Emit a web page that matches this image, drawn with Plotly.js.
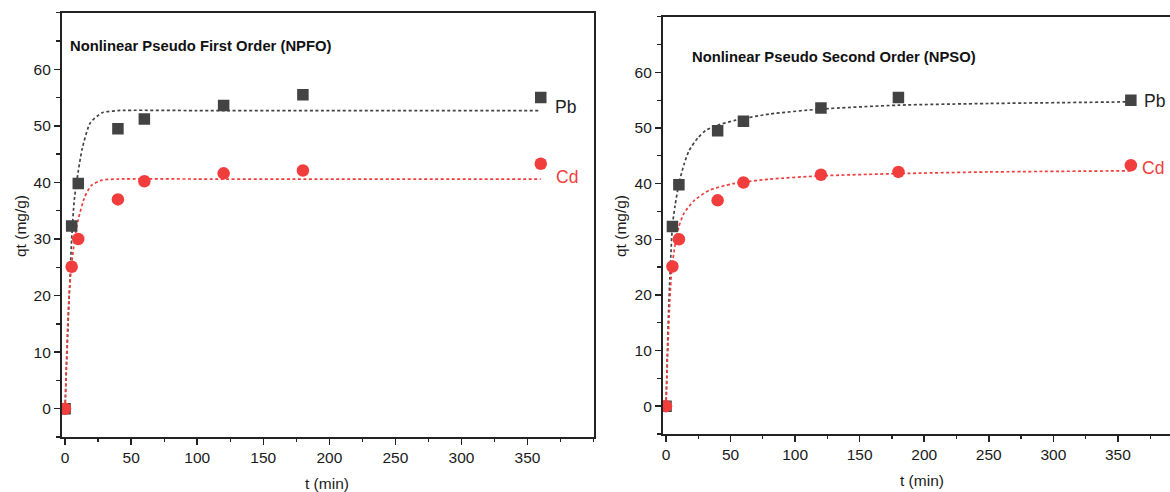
<!DOCTYPE html>
<html>
<head>
<meta charset="utf-8">
<script src="https://cdn.plot.ly/plotly-3.0.1.min.js"></script>
<style>
html,body{margin:0;padding:0;overflow:hidden;background:#fff;width:1170px;height:492px;}
#chart{width:1185px;height:492px;}
</style>
</head>
<body>
<div id="chart"></div>
<script>
const tPb = [0, 5, 10, 40, 60, 120, 180, 360];
const qPb = [0, 32.3, 39.8, 49.5, 51.2, 53.6, 55.5, 55.0];
const tCd = [0, 5, 10, 40, 60, 120, 180, 360];
const qCd = [0, 25.1, 30.0, 37.0, 40.2, 41.6, 42.1, 43.3];

// Fitted curves – NPFO panel
const tFoPb = [0, 1, 2, 3, 5, 7, 10, 13, 19, 28, 40, 100, 200, 360];
const qFoPb = [0, 7, 13, 19, 30, 37, 42, 46, 50.5, 52.3, 52.7, 52.7, 52.7, 52.7];
const tFoCd = [0, 1, 2, 3, 5, 7, 10, 15, 20, 28, 40, 100, 200, 360];
const qFoCd = [0, 8, 15, 20, 25.5, 29.5, 33.5, 37.5, 39.5, 40.4, 40.6, 40.6, 40.6, 40.6];

// Fitted curves – NPSO panel
const tSoPb = [0, 1, 2, 3, 5, 7, 10, 14, 18, 25, 31, 40, 54, 80, 120, 180, 250, 360];
const qSoPb = [0, 9, 17, 23, 32.5, 36, 40, 43.5, 46, 48.3, 49.6, 50.5, 51.4, 52.5, 53.4, 54.1, 54.4, 54.7];
const tSoCd = [0, 1.5, 3, 4.6, 7.7, 10, 14, 22, 33.5, 52, 80, 120, 180, 250, 360];
const qSoCd = [0, 10.7, 19, 25, 29.9, 32.3, 34.7, 37, 38.8, 40, 40.8, 41.4, 41.8, 42.1, 42.3];

const panelTitles = ["Nonlinear Pseudo First Order (NPFO)", "Nonlinear Pseudo Second Order (NPSO)"];
const seriesNames = ["Pb", "Cd"];
const xTicks = [0, 50, 100, 150, 200, 250, 300, 350];
const yTicks = [0, 10, 20, 30, 40, 50, 60];

const W = 1185, H = 492;
const grey = "#434343", red = "#f23d3d";
const dash = "3px,2.5px";

function fit(x, y, color, xa, ya) {
  return {x: x, y: y, xaxis: xa, yaxis: ya, mode: "lines", type: "scatter",
    line: {color: color, width: 1.7, dash: dash, shape: "spline", smoothing: 0.6},
    hoverinfo: "skip", showlegend: false};
}
function pts(x, y, color, sym, size, xa, ya, name) {
  return {x: x, y: y, xaxis: xa, yaxis: ya, mode: "markers", type: "scatter", name: name,
    marker: {color: color, symbol: sym, size: size, line: {width: 0}}, showlegend: false};
}

const data = [
  fit(tFoPb, qFoPb, grey, "x", "y"),
  fit(tFoCd, qFoCd, red, "x", "y"),
  pts(tPb, qPb, grey, "square", 11.5, "x", "y", seriesNames[0]),
  pts(tCd, qCd, red, "circle", 12.5, "x", "y", seriesNames[1]),
  fit(tSoPb, qSoPb, grey, "x2", "y2"),
  fit(tSoCd, qSoCd, red, "x2", "y2"),
  pts(tPb, qPb, grey, "square", 11.5, "x2", "y2", seriesNames[0]),
  pts(tCd, qCd, red, "circle", 12.5, "x2", "y2", seriesNames[1])
];

const font = {family: "Liberation Sans, Arial, sans-serif", size: 15.5, color: "#1a1a1a"};

function xaxis(dom, range, anchor) {
  return {domain: dom, range: range, anchor: anchor, tickmode: "array", tickvals: xTicks,
    ticks: "outside", ticklen: 6, tickwidth: 1.5, tickcolor: "#222",
    showline: true, linecolor: "#222", linewidth: 1.6, mirror: true,
    showgrid: false, zeroline: false, tickfont: font,
    minor: {dtick: 25, tick0: 0, ticks: "outside", ticklen: 3.5, tickwidth: 1.3, tickcolor: "#222", showgrid: false}};
}
function yaxis(dom, range, anchor) {
  return {domain: dom, range: range, anchor: anchor, tickmode: "array", tickvals: yTicks,
    ticks: "outside", ticklen: 6, tickwidth: 1.5, tickcolor: "#222",
    showline: true, linecolor: "#222", linewidth: 1.6, mirror: true,
    showgrid: false, zeroline: false, tickfont: font,
    minor: {dtick: 5, tick0: 0, ticks: "outside", ticklen: 3.5, tickwidth: 1.3, tickcolor: "#222", showgrid: false}};
}

const ann = [];
function txt(x, y, s, opts) {
  ann.push(Object.assign({x: x, y: y, text: s, showarrow: false, xref: "paper", yref: "paper",
    font: font}, opts));
}
const titleFont = Object.assign({}, font, {size: 14.8, color: "#111"});
const axFont = Object.assign({}, font, {size: 15.5});
// panel titles
txt(68 / W, 1 - 46 / H, "<b>" + panelTitles[0] + "</b>", {xanchor: "left", yanchor: "middle", font: titleFont});
txt(690 / W, 1 - 57 / H, "<b>" + panelTitles[1] + "</b>", {xanchor: "left", yanchor: "middle", font: titleFont});
// axis titles
txt(327 / W, 1 - 483 / H, "t (min)", {xanchor: "center", yanchor: "middle", font: axFont});
txt(922 / W, 1 - 480 / H, "t (min)", {xanchor: "center", yanchor: "middle", font: axFont});
txt(20 / W, 1 - 226 / H, "qt (mg/g)", {xanchor: "center", yanchor: "middle", textangle: -90, font: axFont});
txt(620 / W, 1 - 226 / H, "qt (mg/g)", {xanchor: "center", yanchor: "middle", textangle: -90, font: axFont});
// series labels
ann.push({x: 369, y: 53.3, xref: "x", yref: "y", text: seriesNames[0], showarrow: false, xanchor: "left", yanchor: "middle", font: Object.assign({}, font, {size: 17.5, color: "#222"})});
ann.push({x: 370, y: 41.0, xref: "x", yref: "y", text: seriesNames[1], showarrow: false, xanchor: "left", yanchor: "middle", font: Object.assign({}, font, {size: 17.5, color: red})});
ann.push({x: 369, y: 54.8, xref: "x2", yref: "y2", text: seriesNames[0], showarrow: false, xanchor: "left", yanchor: "middle", font: Object.assign({}, font, {size: 17.5, color: "#222"})});
ann.push({x: 367, y: 42.8, xref: "x2", yref: "y2", text: seriesNames[1], showarrow: false, xanchor: "left", yanchor: "middle", font: Object.assign({}, font, {size: 17.5, color: red})});

const layout = {
  width: W, height: H,
  margin: {l: 0, r: 0, t: 0, b: 0},
  paper_bgcolor: "#fff", plot_bgcolor: "#fff",
  font: font,
  showlegend: false,
  xaxis: xaxis([61.5 / W, 594 / W], [-2.7, 400.3], "y"),
  yaxis: yaxis([(H - 437) / H, (H - 12.7) / H], [-5, 70], "x"),
  xaxis2: xaxis([662.5 / W, 1182.5 / W], [-2.7, 400], "y2"),
  yaxis2: yaxis([(H - 434) / H, (H - 16.7) / H], [-5, 70], "x2"),
  annotations: ann
};

Plotly.newPlot("chart", data, layout, {staticPlot: true, displayModeBar: false});
</script>
</body>
</html>
